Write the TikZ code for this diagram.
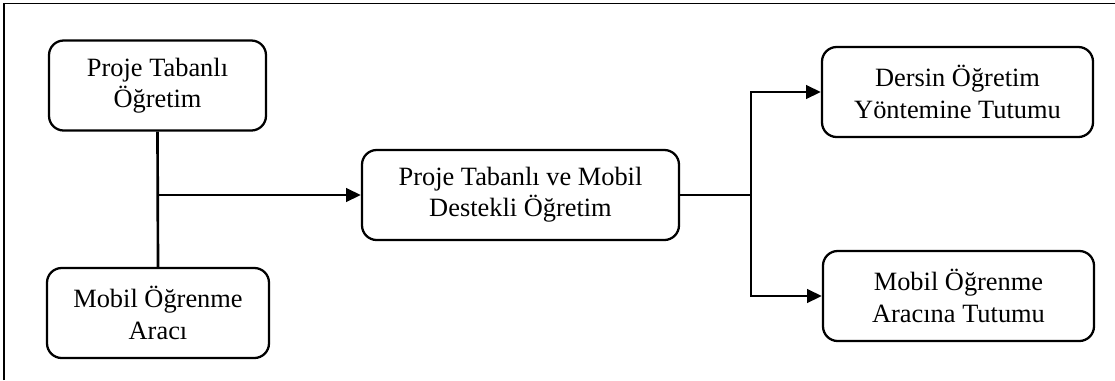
\documentclass[tikz,border=0pt]{standalone}
\usepackage{fontspec}
\setmainfont{Liberation Serif}
\usetikzlibrary{arrows.meta}

\begin{document}
\begin{tikzpicture}[x=0.75pt,y=0.75pt,yscale=-1,xscale=1,
  kutu/.style={draw,line width=1.7pt,rounded corners=11pt,align=center,
    minimum height=67.5pt,inner sep=0pt,
    font=\fontsize{19.8}{23.4}\selectfont},
  ok/.style={line width=2pt,-{Triangle[length=11pt,width=10pt]}},
  cizgi/.style={line width=2pt}]
\useasboundingbox (0,0) rectangle (1115,380);

%Frame
\draw [line width=1.2pt] (4,380) -- (4,3.5) -- (1115,3.5) ;

%Shape: Rounded Rect
\node [kutu,minimum width=162.75pt] (pto) at (157.5,85.5) {Proje Tabanlı\\Öğretim};
%Shape: Rounded Rect
\node [kutu,minimum width=166.5pt] (moa) at (158,313) {Mobil Öğrenme\\Aracı};
%Shape: Rounded Rect
\node [kutu,minimum width=237.75pt] (ptm) at (520.5,195) {Proje Tabanlı ve Mobil\\Destekli Öğretim};
%Shape: Rounded Rect
\node [kutu,minimum width=203.25pt] (dot) at (957.5,92) {Dersin Öğretim\\Yöntemine Tutumu};
%Shape: Rounded Rect
\node [kutu,minimum width=203.25pt] (mot) at (958.5,296) {Mobil Öğrenme\\Aracına Tutumu};

%Straight Lines
\draw [cizgi] (pto.south) -- (moa.north) ;
\draw [ok] (pto.south |- ptm.west) -- (ptm.west) ;
%Straight Lines
\draw [cizgi] (ptm.east) -- ++(71,0) coordinate (ayrim) ;
\draw [ok] (ayrim) |- (dot.west) ;
\draw [ok] (ayrim) |- (mot.west) ;

\end{tikzpicture}
\end{document}
